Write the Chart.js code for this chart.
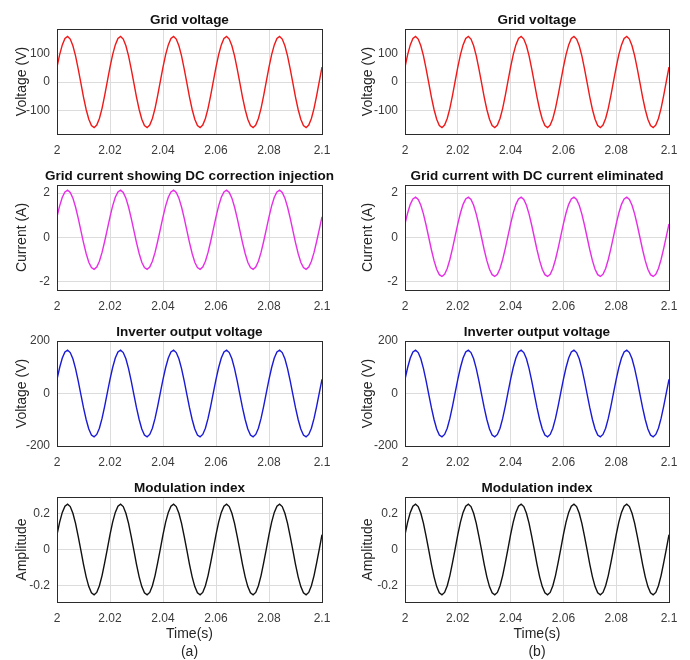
<!DOCTYPE html>
<html lang="en">
<head>
<meta charset="UTF-8">
<script src="https://cdn.jsdelivr.net/npm/chart.js"></script>
<title>Grid current with and without DC correction</title>
<style>
  body { margin: 0; width: 690px; height: 660px; background: #fff; position: relative; overflow: hidden; }
  canvas { position: absolute; }
</style>
</head>
<body>
<canvas id="gridV_a"></canvas>
<canvas id="gridV_b"></canvas>
<canvas id="current_a"></canvas>
<canvas id="current_b"></canvas>
<canvas id="inverter_a"></canvas>
<canvas id="inverter_b"></canvas>
<canvas id="mod_a"></canvas>
<canvas id="mod_b"></canvas>

<script>
// samples every 1 ms from t = 2 s to t = 2.1 s
const gridVoltage = [
  52, 95, 129, 151, 158, 149, 126, 91, 46, -3, -52, -95, -129, -151, -158, -149, -126, -91, -46, 3,
  52, 95, 129, 151, 158, 149, 126, 91, 46, -3, -52, -95, -129, -151, -158, -149, -126, -91, -46, 3,
  52, 95, 129, 151, 158, 149, 126, 91, 46, -3, -52, -95, -129, -151, -158, -149, -126, -91, -46, 3,
  52, 95, 129, 151, 158, 149, 126, 91, 46, -3, -52, -95, -129, -151, -158, -149, -126, -91, -46, 3,
  52, 95, 129, 151, 158, 149, 126, 91, 46, -3, -52, -95, -129, -151, -158, -149, -126, -91, -46, 3,
  52
];
const currentWithDC = [
  0.93, 1.42, 1.81, 2.05, 2.13, 2.03, 1.77, 1.37, 0.87, 0.32, -0.23, -0.72, -1.11, -1.35, -1.43, -1.33, -1.07, -0.67, -0.17, 0.38,
  0.93, 1.42, 1.81, 2.05, 2.13, 2.03, 1.77, 1.37, 0.87, 0.32, -0.23, -0.72, -1.11, -1.35, -1.43, -1.33, -1.07, -0.67, -0.17, 0.38,
  0.93, 1.42, 1.81, 2.05, 2.13, 2.03, 1.77, 1.37, 0.87, 0.32, -0.23, -0.72, -1.11, -1.35, -1.43, -1.33, -1.07, -0.67, -0.17, 0.38,
  0.93, 1.42, 1.81, 2.05, 2.13, 2.03, 1.77, 1.37, 0.87, 0.32, -0.23, -0.72, -1.11, -1.35, -1.43, -1.33, -1.07, -0.67, -0.17, 0.38,
  0.93, 1.42, 1.81, 2.05, 2.13, 2.03, 1.77, 1.37, 0.87, 0.32, -0.23, -0.72, -1.11, -1.35, -1.43, -1.33, -1.07, -0.67, -0.17, 0.38,
  0.93
];
const currentNoDC = [
  0.61, 1.10, 1.49, 1.73, 1.81, 1.71, 1.45, 1.05, 0.55, 0.00, -0.55, -1.04, -1.43, -1.67, -1.75, -1.65, -1.39, -0.99, -0.49, 0.06,
  0.61, 1.10, 1.49, 1.73, 1.81, 1.71, 1.45, 1.05, 0.55, 0.00, -0.55, -1.04, -1.43, -1.67, -1.75, -1.65, -1.39, -0.99, -0.49, 0.06,
  0.61, 1.10, 1.49, 1.73, 1.81, 1.71, 1.45, 1.05, 0.55, 0.00, -0.55, -1.04, -1.43, -1.67, -1.75, -1.65, -1.39, -0.99, -0.49, 0.06,
  0.61, 1.10, 1.49, 1.73, 1.81, 1.71, 1.45, 1.05, 0.55, 0.00, -0.55, -1.04, -1.43, -1.67, -1.75, -1.65, -1.39, -0.99, -0.49, 0.06,
  0.61, 1.10, 1.49, 1.73, 1.81, 1.71, 1.45, 1.05, 0.55, 0.00, -0.55, -1.04, -1.43, -1.67, -1.75, -1.65, -1.39, -0.99, -0.49, 0.06,
  0.61
];
const inverterVoltage = [
  54, 99, 135, 158, 165, 156, 132, 95, 48, -3, -54, -99, -135, -158, -165, -156, -132, -95, -48, 3,
  54, 99, 135, 158, 165, 156, 132, 95, 48, -3, -54, -99, -135, -158, -165, -156, -132, -95, -48, 3,
  54, 99, 135, 158, 165, 156, 132, 95, 48, -3, -54, -99, -135, -158, -165, -156, -132, -95, -48, 3,
  54, 99, 135, 158, 165, 156, 132, 95, 48, -3, -54, -99, -135, -158, -165, -156, -132, -95, -48, 3,
  54, 99, 135, 158, 165, 156, 132, 95, 48, -3, -54, -99, -135, -158, -165, -156, -132, -95, -48, 3,
  54
];
const modulationIndex = [
  0.082, 0.151, 0.205, 0.239, 0.25, 0.237, 0.2, 0.144, 0.073, -0.004, -0.082, -0.151, -0.205, -0.239, -0.25, -0.237, -0.2, -0.144, -0.073, 0.004,
  0.082, 0.151, 0.205, 0.239, 0.25, 0.237, 0.2, 0.144, 0.073, -0.004, -0.082, -0.151, -0.205, -0.239, -0.25, -0.237, -0.2, -0.144, -0.073, 0.004,
  0.082, 0.151, 0.205, 0.239, 0.25, 0.237, 0.2, 0.144, 0.073, -0.004, -0.082, -0.151, -0.205, -0.239, -0.25, -0.237, -0.2, -0.144, -0.073, 0.004,
  0.082, 0.151, 0.205, 0.239, 0.25, 0.237, 0.2, 0.144, 0.073, -0.004, -0.082, -0.151, -0.205, -0.239, -0.25, -0.237, -0.2, -0.144, -0.073, 0.004,
  0.082, 0.151, 0.205, 0.239, 0.25, 0.237, 0.2, 0.144, 0.073, -0.004, -0.082, -0.151, -0.205, -0.239, -0.25, -0.237, -0.2, -0.144, -0.073, 0.004,
  0.082
];
const times = gridVoltage.map((_, i) => 2 + i * 0.001);

const xTicks = [2, 2.02, 2.04, 2.06, 2.08, 2.1];
const xTickLabels = ['2', '2.02', '2.04', '2.06', '2.08', '2.1'];

const FONT = '"Liberation Sans", Arial, sans-serif';

// title centred over the plot area + full MATLAB-style box
const panelFrame = {
  id: 'panelFrame',
  afterDraw(chart, args, opts) {
    const { ctx, chartArea: a } = chart;
    ctx.save();
    ctx.strokeStyle = '#2b2b2b';
    ctx.lineWidth = 1;
    ctx.strokeRect(Math.round(a.left) + 0.5, Math.round(a.top) + 0.5,
      Math.round(a.right - a.left), Math.round(a.bottom - a.top));
    ctx.font = 'bold 13.5px ' + FONT;
    ctx.fillStyle = '#111';
    ctx.textAlign = 'center';
    ctx.textBaseline = 'middle';
    ctx.fillText(opts.text, (a.left + a.right) / 2, a.top - 9);
    ctx.restore();
  }
};

function panel(id, pos, title, values, color, yLabel, yMin, yMax, yTicks, bottomLabel) {
  const el = document.getElementById(id);
  el.width = pos.w;
  el.height = pos.h;
  el.style.left = pos.x + 'px';
  el.style.top = pos.y + 'px';
  const xh = bottomLabel ? 60 : 25;

  new Chart(el, {
    type: 'line',
    data: {
      datasets: [{
        data: values.map((v, i) => ({ x: times[i], y: v })),
        borderColor: color,
        borderWidth: 1.4,
        pointRadius: 0,
        tension: 0
      }]
    },
    options: {
      responsive: false,
      animation: false,
      events: [],
      layout: { padding: { top: 25, right: 12, left: 0, bottom: 0 } },
      plugins: {
        legend: { display: false },
        tooltip: { enabled: false },
        panelFrame: { text: title }
      },
      scales: {
        x: {
          type: 'linear',
          min: 2,
          max: 2.1,
          afterBuildTicks: s => { s.ticks = xTicks.map(v => ({ value: v })); },
          afterFit: s => { s.height = xh; s.paddingLeft = 0; s.paddingRight = 0; },
          grid: { color: '#dcdcdc', drawTicks: false },
          border: { display: false },
          ticks: {
            padding: 9,
            maxRotation: 0,
            color: '#3a3a3a',
            font: { family: FONT, size: 12 },
            callback: (v, i) => xTickLabels[i]
          },
          title: {
            display: !!bottomLabel,
            text: bottomLabel || '',
            color: '#262626',
            padding: { top: 2, bottom: 0 },
            font: { family: FONT, size: 14, lineHeight: 1.35 }
          }
        },
        y: {
          min: yMin,
          max: yMax,
          afterBuildTicks: s => { s.ticks = yTicks.map(v => ({ value: v })); },
          afterFit: s => { s.width = 57; s.paddingTop = 0; s.paddingBottom = 0; },
          grid: { color: '#dcdcdc', drawTicks: false },
          border: { display: false },
          ticks: {
            padding: 7,
            color: '#3a3a3a',
            font: { family: FONT, size: 12 },
            callback: v => String(v)
          },
          title: {
            display: true,
            text: yLabel,
            color: '#262626',
            padding: { top: pos.yPad, bottom: 0 },
            font: { family: FONT, size: 14, lineHeight: 1.2 }
          }
        }
      }
    },
    plugins: [panelFrame]
  });
}

const colA = { x: 0, w: 334, yPad: 14 };
const colB = { x: 348, w: 333, yPad: 12 };
const rows = [{ y: 4, h: 155 }, { y: 160, h: 155 }, { y: 316, h: 155 }, { y: 472, h: 190 }];
const at = (c, r) => ({ x: c.x, w: c.w, yPad: c.yPad, y: r.y, h: r.h });

panel('gridV_a', at(colA, rows[0]), 'Grid voltage', gridVoltage, '#f01818', 'Voltage (V)', -180, 184, [-100, 0, 100]);
panel('gridV_b', at(colB, rows[0]), 'Grid voltage', gridVoltage, '#f01818', 'Voltage (V)', -180, 184, [-100, 0, 100]);
panel('current_a', at(colA, rows[1]), 'Grid current showing DC correction injection', currentWithDC, '#e62ee6', 'Current (A)', -2.36, 2.36, [-2, 0, 2]);
panel('current_b', at(colB, rows[1]), 'Grid current with DC current eliminated', currentNoDC, '#e62ee6', 'Current (A)', -2.36, 2.36, [-2, 0, 2]);
panel('inverter_a', at(colA, rows[2]), 'Inverter output voltage', inverterVoltage, '#1a1ad6', 'Voltage (V)', -200, 200, [-200, 0, 200]);
panel('inverter_b', at(colB, rows[2]), 'Inverter output voltage', inverterVoltage, '#1a1ad6', 'Voltage (V)', -200, 200, [-200, 0, 200]);
panel('mod_a', at(colA, rows[3]), 'Modulation index', modulationIndex, '#111111', 'Amplitude', -0.29, 0.29, [-0.2, 0, 0.2], ['Time(s)', '(a)']);
panel('mod_b', at(colB, rows[3]), 'Modulation index', modulationIndex, '#111111', 'Amplitude', -0.29, 0.29, [-0.2, 0, 0.2], ['Time(s)', '(b)']);
</script>
</body>
</html>
